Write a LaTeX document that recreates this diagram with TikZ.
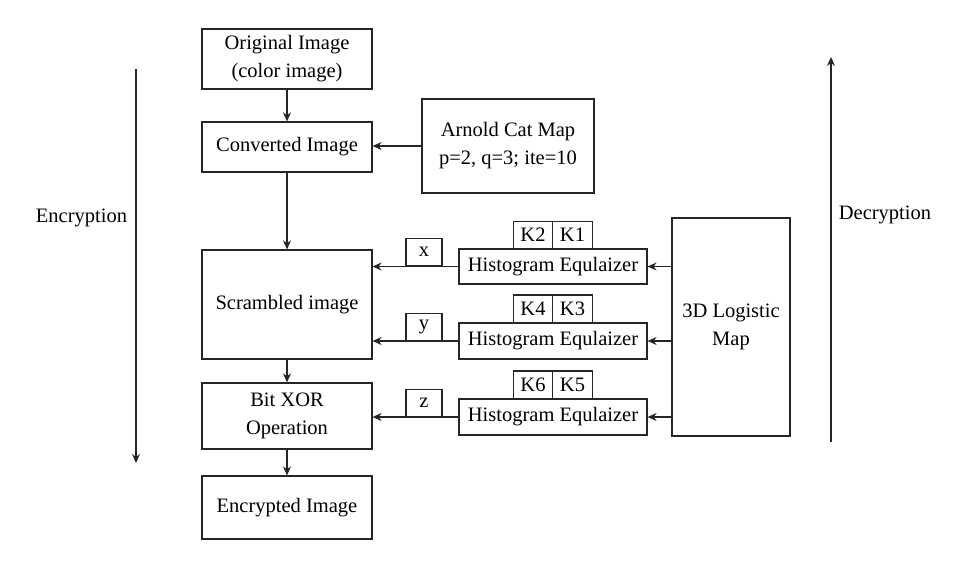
\documentclass[tikz,border=0pt]{standalone}
\usepackage{fontspec}
\setmainfont{Liberation Serif}
\usetikzlibrary{arrows.meta}
\begin{document}
\begin{tikzpicture}[x=1pt,y=-1pt,
  every node/.style={font=\fontsize{20.5}{28}\selectfont, text=black},
  blk/.style={draw=black!85, line width=1.2pt, inner sep=0pt, align=center},
  conn/.style={draw=black!85, line width=1.2pt, -{Stealth[length=9pt,width=8pt]}}]
\useasboundingbox (0,0) rectangle (972,565);
\node[blk, minimum width=170, minimum height=60] (orig) at (287,59) {Original Image\\(color image)};
\node[blk, minimum width=170, minimum height=50] (conv) at (287,147) {Converted Image};
\node[blk, minimum width=172, minimum height=94] (arnold) at (508,146) {Arnold Cat Map\\p=2, q=3; ite=10};
\node[blk, minimum width=170, minimum height=109] (scr) at (287,304.5) {Scrambled image};
\node[blk, minimum width=170, minimum height=66] (xor) at (287,416) {Bit XOR\\Operation};
\node[blk, minimum width=170, minimum height=63] (enc) at (287,507.5) {Encrypted Image};
\node[blk, minimum width=188, minimum height=35] (he1) at (553,266.5) {Histogram Equlaizer};
\node[blk, minimum width=188, minimum height=36] (he2) at (553,341) {Histogram Equlaizer};
\node[blk, minimum width=188, minimum height=36] (he3) at (553,417) {Histogram Equlaizer};
\node[blk, minimum width=39.5, minimum height=28] (k2) at (533,235.2) {K2};
\node[blk, minimum width=39.5, minimum height=28] (k1) at (572.5,235.2) {K1};
\node[blk, minimum width=39.5, minimum height=28] (k4) at (533,309) {K4};
\node[blk, minimum width=39.5, minimum height=28] (k3) at (572.5,309) {K3};
\node[blk, minimum width=39.5, minimum height=28] (k6) at (533,385) {K6};
\node[blk, minimum width=39.5, minimum height=28] (k5) at (572.5,385) {K5};
\node[blk, minimum width=36, minimum height=27] (xb) at (424,252) {x};
\node[blk, minimum width=36, minimum height=27] (yb) at (424,327) {y};
\node[blk, minimum width=36, minimum height=27] (zb) at (424,403) {z};
\node[blk, minimum width=118, minimum height=218] (logi) at (731,327) {3D Logistic\\Map};
\draw[conn] (orig) -- (conv);
\draw[conn] (conv) -- (scr);
\draw[conn] (scr) -- (xor);
\draw[conn] (xor) -- (enc);
\draw[conn] (arnold.west) -- (arnold.west -| conv.east);
\draw[conn] (logi.west |- he1.east) -- (he1.east);
\draw[conn] (logi.west |- he2.east) -- (he2.east);
\draw[conn] (logi.west |- he3.east) -- (he3.east);
\draw[conn] (he1.west) -- (he1.west -| scr.east);
\draw[conn] (he2.west) -- (he2.west -| scr.east);
\draw[conn] (he3.west) -- (he3.west -| xor.east);
\coordinate (e1) at (136,69);
\coordinate (e2) at (136,463);
\draw[conn] (e1) -- (e2);
\node (enct) at (81.5,218) {Encryption};
\coordinate (d1) at (831,442);
\coordinate (d2) at (831,57);
\draw[conn] (d1) -- (d2);
\node (dect) at (885,215) {Decryption};
\end{tikzpicture}
\end{document}
